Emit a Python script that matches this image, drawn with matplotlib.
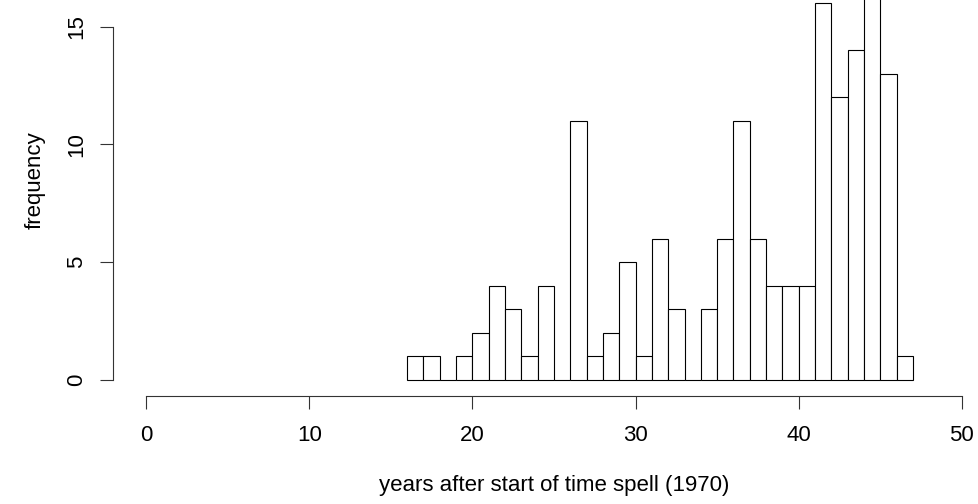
import numpy as np
import matplotlib
matplotlib.use("Agg")
import matplotlib.pyplot as plt

plt.rcParams['font.family'] = ['Liberation Sans', 'DejaVu Sans']

# histogram of event years, one-year bins starting at year 16
bin_left = [16, 17, 18, 19, 20, 21, 22, 23, 24, 25, 26, 27, 28, 29, 30, 31,
            32, 33, 34, 35, 36, 37, 38, 39, 40, 41, 42, 43, 44, 45, 46]
counts = [1, 1, 0, 1, 2, 4, 3, 1, 4, 0, 11, 1, 2, 5, 1, 6,
          3, 0, 3, 6, 11, 6, 4, 4, 4, 16, 12, 14, 17, 13, 1]
x_ticks = [0, 10, 20, 30, 40, 50]
y_ticks = [0, 5, 10, 15]

fig = plt.figure(figsize=(9.79, 5.04), dpi=100)
ax = fig.add_axes([0.1158, 0.2143, 0.9001, 0.858])

ax.bar(bin_left, counts, width=1, align='edge', color='white',
       edgecolor='black', linewidth=0.8, clip_on=False)

# R-style axis ranges: 4% padding on each side
xlo, xhi = 0, 50
ylo, yhi = 0, max(counts)
ax.set_xlim(xlo - 0.04 * (xhi - xlo), xhi + 0.04 * (xhi - xlo))
ax.set_ylim(ylo - 0.04 * (yhi - ylo), yhi + 0.04 * (yhi - ylo))

for s in ['top', 'right']:
    ax.spines[s].set_visible(False)
ax.spines['left'].set_bounds(0, 15)
ax.spines['bottom'].set_bounds(0, 50)
for s in ['left', 'bottom']:
    ax.spines[s].set_linewidth(0.8)
    ax.spines[s].set_color('#333333')

ax.set_xticks(x_ticks)
ax.set_yticks(y_ticks)
ax.set_yticklabels([str(v) for v in y_ticks], rotation=90, va='center')
ax.tick_params(direction='out', length=9.5, width=0.8, color='#333333',
               labelsize=16)
ax.tick_params(axis='x', pad=11.5)
ax.tick_params(axis='y', pad=9.5)

ax.set_xlabel('years after start of time spell (1970)', fontsize=16, labelpad=21)
ax.set_ylabel('frequency', fontsize=16, labelpad=15)

fig.savefig('out.png', dpi=100)
